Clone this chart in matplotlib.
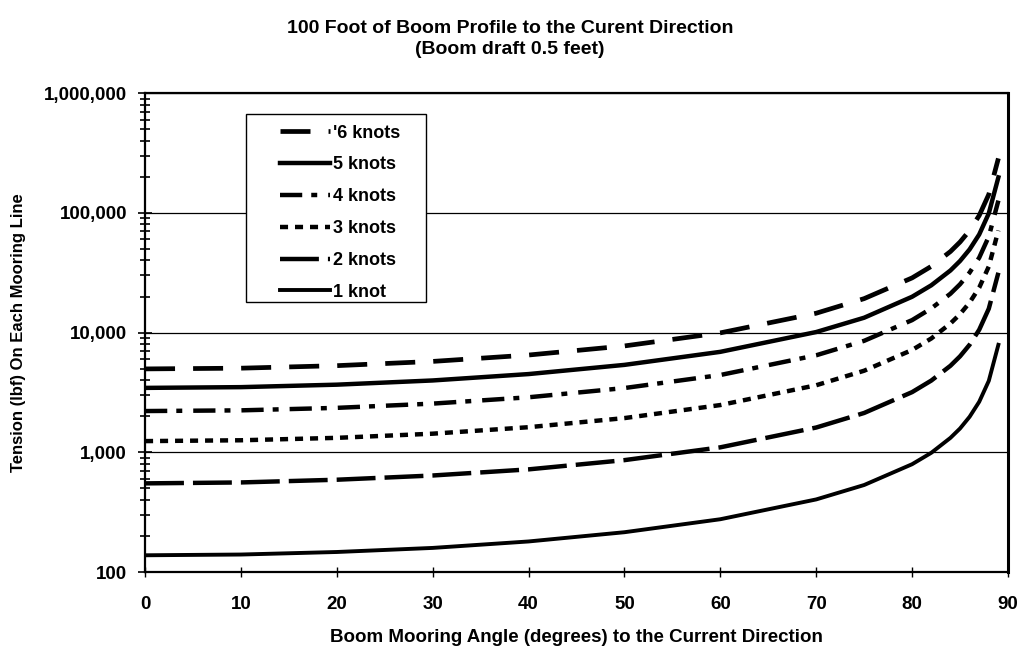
import matplotlib.pyplot as plt
from matplotlib.patches import Rectangle

plt.rcParams['font.family'] = ['Liberation Sans', 'DejaVu Sans']
plt.rcParams['font.weight'] = 'bold'
plt.rcParams['axes.labelweight'] = 'bold'
plt.rcParams['lines.scale_dashes'] = False

# values (tension in lbf)
angle = [0, 10, 20, 30, 40, 50, 60, 70, 75, 80, 82, 84, 85, 86, 87, 88, 89]
knots_1 = [138, 140, 147, 159, 180, 215, 276, 404, 533, 795, 990, 1320, 1580, 1980, 2640, 3950, 7900]
knots_2 = [550, 560, 590, 640, 720, 860, 1100, 1610, 2130, 3180, 3970, 5280, 6330, 7910, 10550, 15820, 31600]
knots_3 = [1240, 1260, 1320, 1430, 1620, 1930, 2480, 3630, 4800, 7150, 8920, 11900, 14250, 17800, 23700, 35600, 71200]
knots_4 = [2210, 2240, 2350, 2550, 2880, 3440, 4420, 6460, 8530, 12700, 15900, 21100, 25300, 31700, 42200, 63300, 126500]
knots_5 = [3450, 3500, 3670, 3980, 4500, 5370, 6900, 10100, 13300, 19900, 24800, 33000, 39600, 49500, 65900, 98900, 197700]
knots_6 = [4970, 5040, 5290, 5740, 6490, 7730, 9940, 14500, 19200, 28600, 35700, 47500, 57000, 71200, 94900, 142400, 284700]
labels = ["'6 knots", '5 knots', '4 knots', '3 knots', '2 knots', '1 knot']

fig = plt.figure(figsize=(10.2, 6.49), dpi=100)
ax = fig.add_axes([0.1422, 0.1186, 0.846, 0.738])

ax.plot(angle, knots_6, color='black', lw=3.4, ls=(0, (21.6, 13)), label=labels[0])
ax.plot(angle, knots_5, color='black', lw=3.2, ls='-', label=labels[1])
ax.plot(angle, knots_4, color='black', lw=3.2, ls=(0, (16, 6.5, 4.3, 7.9)), label=labels[2])
ax.plot(angle, knots_3, color='black', lw=3.2, ls=(0, (5.8, 5)), label=labels[3])
ax.plot(angle, knots_2, color='black', lw=3.2, ls=(0, (28, 6.5)), label=labels[4])
ax.plot(angle, knots_1, color='black', lw=2.8, ls='-', label=labels[5])

ax.set_yscale('log')
ax.set_ylim(100, 1000000)
ax.set_xlim(0, 90)
ax.set_xticks(range(0, 91, 10))
ax.set_yticks([100, 1000, 10000, 100000, 1000000])
ax.set_yticklabels(['100', '1,000', '10,000', '100,000', '1,000,000'])
ax.yaxis.grid(True, which='major', color='black', lw=0.9)
ax.set_axisbelow(True)

for s in ax.spines.values():
    s.set_linewidth(1.6)
ax.spines['right'].set_linewidth(2.2)

ax.tick_params(axis='y', which='major', direction='inout', length=10, width=1.2, pad=8, labelsize=13.5)
ax.tick_params(axis='y', which='minor', direction='inout', length=7, width=1.2, labelleft=False)
ax.tick_params(axis='x', which='major', direction='inout', length=7, width=1, pad=14, labelsize=13.5)

ax.set_xlabel('Boom Mooring Angle (degrees) to the Current Direction', fontsize=13.5, va='center')
ax.xaxis.set_label_coords(0.5, -0.136)
ax.set_ylabel('Tension (lbf) On Each Mooring Line', fontsize=12, va='center')
ax.yaxis.set_label_coords(-0.147, 0.5)
fig.text(0.5, 0.94, '100 Foot of Boom Profile to the Curent Direction\n(Boom draft 0.5 feet)',
         ha='center', va='center', fontsize=14, linespacing=1.35)

# legend box drawn separately so its size matches the original
ax.add_patch(Rectangle((0.117, 0.5637), 0.2086, 0.3923, transform=ax.transAxes,
                       facecolor='white', edgecolor='black', lw=1.0, zorder=4))
leg = ax.legend(loc='upper left', bbox_to_anchor=(0.1564, 0.934), fontsize=13,
                handlelength=2.77, handletextpad=0.15, labelspacing=0.82,
                borderpad=0, borderaxespad=0, frameon=False)
leg.set_zorder(5)

plt.savefig('out.png', dpi=100)
